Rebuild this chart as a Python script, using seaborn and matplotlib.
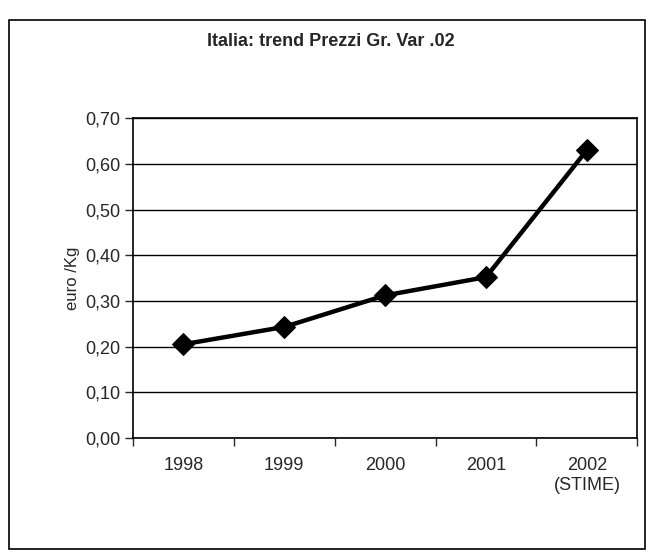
import numpy as np
import pandas as pd
import seaborn as sns
import matplotlib.pyplot as plt
from matplotlib.patches import Rectangle
from matplotlib.ticker import FuncFormatter

# Data
years = ["1998", "1999", "2000", "2001", "2002\n(STIME)"]
prices = [0.205, 0.243, 0.312, 0.352, 0.630]

df = pd.DataFrame({"pos": np.arange(len(years)), "price": prices})

sns.set_style("white")
plt.rcParams["font.family"] = ["Liberation Sans", "DejaVu Sans"]

fig = plt.figure(figsize=(6.55, 5.6), dpi=100)
ax = fig.add_axes([0.203, 0.218, 0.770, 0.571])

sns.lineplot(data=df, x="pos", y="price", ax=ax, color="black", linewidth=3.2,
             marker="D", markersize=11, markeredgecolor="black")

ax.set_ylim(0, 0.70)
ax.set_yticks(np.arange(0, 0.71, 0.1))
ax.yaxis.set_major_formatter(FuncFormatter(lambda v, p: f"{v:.2f}".replace(".", ",")))
ax.grid(axis="y", color="black", linewidth=1)

ax.set_xlim(-0.5, len(years) - 0.5)
ax.set_xticks(df["pos"])
ax.set_xticklabels(years)
ax.set_xticks(np.arange(-0.5, len(years), 1), minor=True)
ax.tick_params(axis="x", which="major", length=0, pad=14, labelsize=13)
ax.tick_params(axis="x", which="minor", length=6, width=1, direction="out", bottom=True)
ax.tick_params(axis="y", length=6, width=1, direction="out", left=True, labelsize=13, pad=3)

for s in ax.spines.values():
    s.set_color("black")
    s.set_linewidth(1.2)

ax.set_xlabel("")
ax.set_ylabel("euro /Kg", fontsize=12, labelpad=4)

fig.text(0.505, 0.925, "Italia: trend Prezzi Gr. Var .02", ha="center", va="center",
         fontsize=13, fontweight="bold")

# outer chart frame
fig.patches.append(Rectangle((0.013, 0.02), 0.972, 0.945, transform=fig.transFigure,
                             fill=False, edgecolor="black", linewidth=1.2))

fig.savefig("out.png", dpi=100)
